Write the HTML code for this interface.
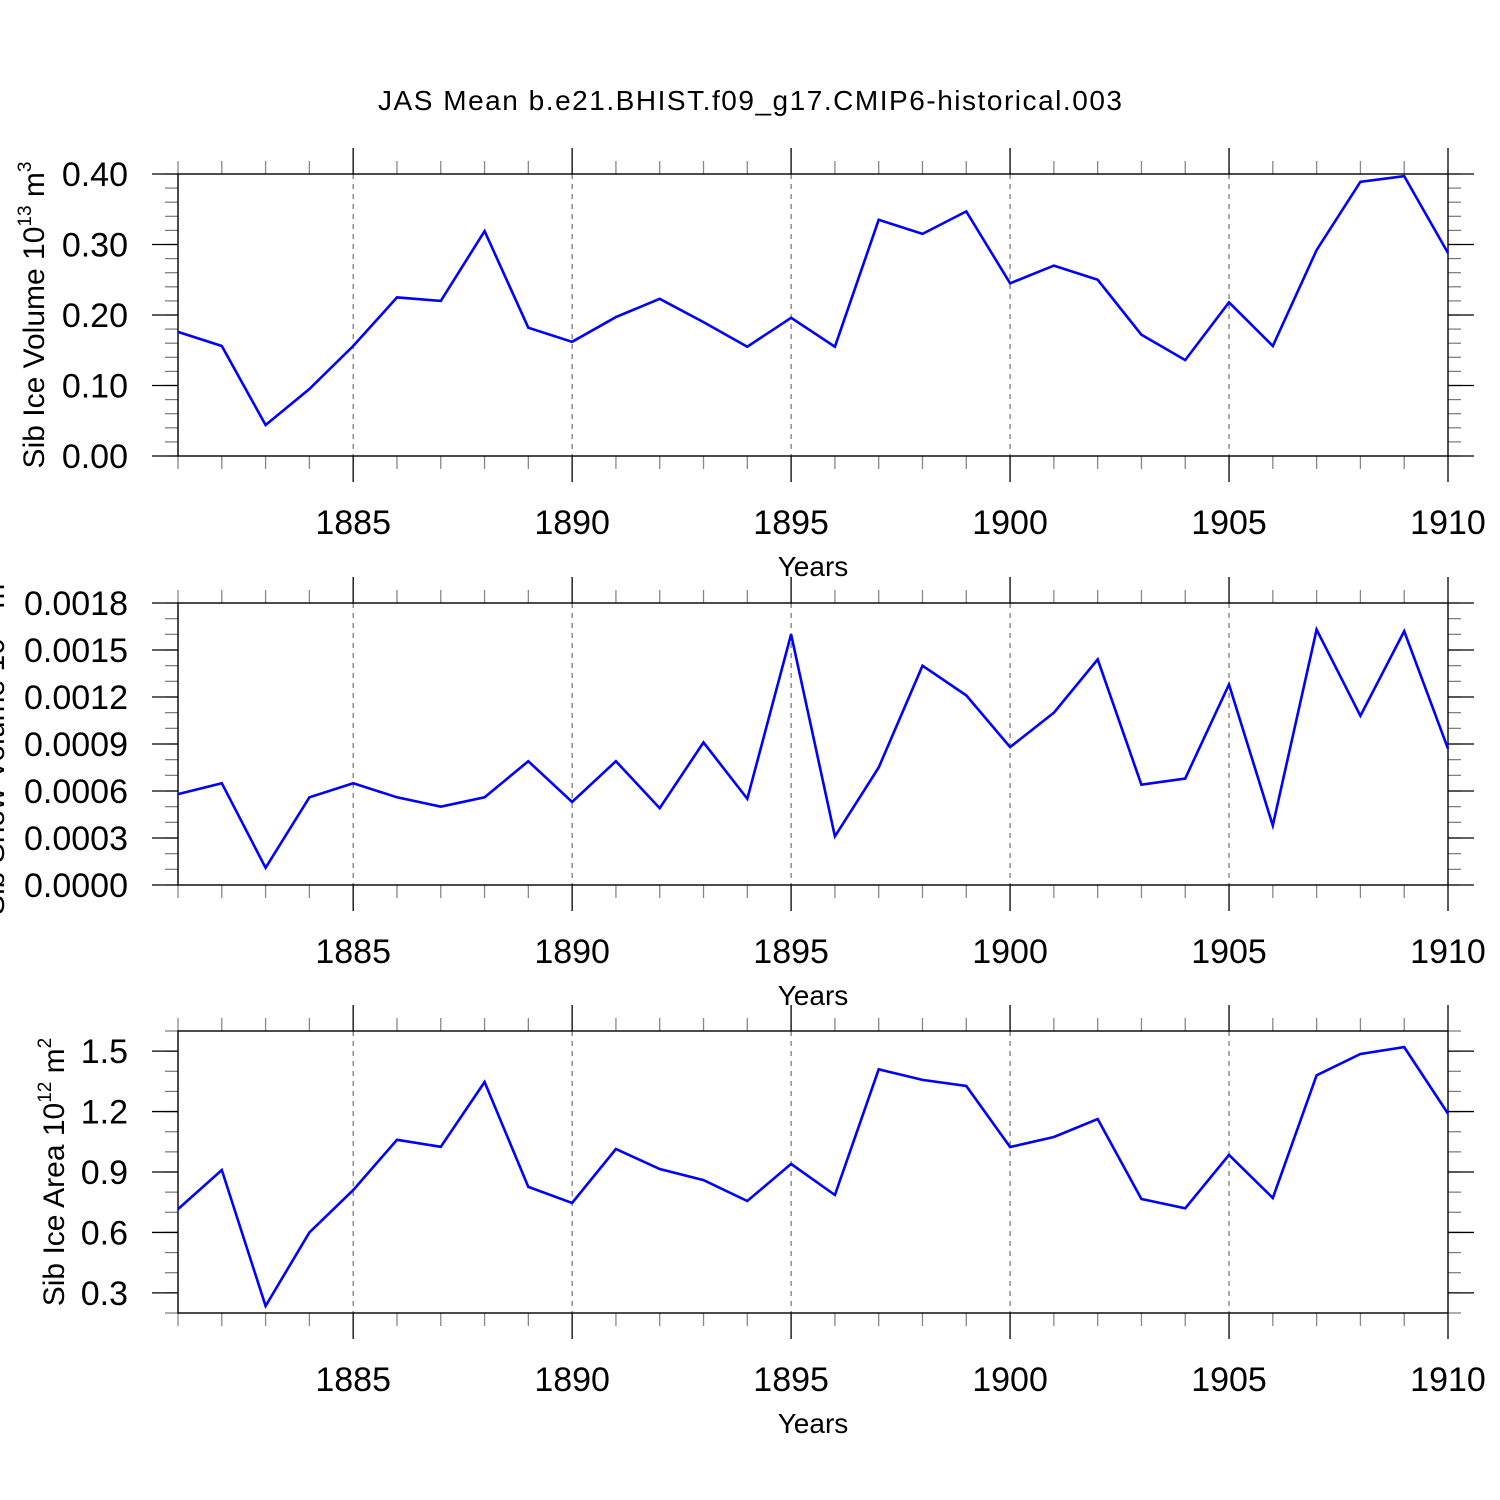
<!DOCTYPE html>
<html><head><meta charset="utf-8"><style>
html,body{margin:0;padding:0;background:#fff;}
svg{display:block;font-family:"Liberation Sans",sans-serif;}
</style></head><body>
<svg id="chart" width="1500" height="1500" viewBox="0 0 1500 1500">
<text x="750" y="110" font-size="28" text-anchor="middle" textLength="744">JAS Mean b.e21.BHIST.f09_g17.CMIP6-historical.003</text>
</svg>
<script>
const years = [1881,1882,1883,1884,1885,1886,1887,1888,1889,1890,1891,1892,1893,1894,1895,1896,1897,1898,1899,1900,1901,1902,1903,1904,1905,1906,1907,1908,1909,1910];
const iceVolume = [0.176,0.156,0.044,0.095,0.156,0.225,0.22,0.319,0.182,0.162,0.197,0.223,0.19,0.155,0.196,0.155,0.335,0.315,0.347,0.245,0.27,0.25,0.172,0.136,0.218,0.156,0.292,0.389,0.397,0.288];
const snowVolume = [0.00058,0.00065,0.00011,0.00056,0.00065,0.00056,0.0005,0.00056,0.00079,0.00053,0.00079,0.00049,0.00091,0.00055,0.0016,0.00031,0.00075,0.0014,0.00121,0.00088,0.0011,0.00144,0.00064,0.00068,0.00128,0.00038,0.00163,0.00108,0.00162,0.00087];
const iceArea = [0.716,0.91,0.235,0.6,0.81,1.06,1.025,1.347,0.826,0.746,1.014,0.915,0.86,0.756,0.94,0.786,1.41,1.357,1.327,1.024,1.074,1.163,0.766,0.72,0.985,0.771,1.38,1.486,1.52,1.19];
const xTickYears = [1885,1890,1895,1900,1905,1910];
const p1Ticks = ["0.00","0.10","0.20","0.30","0.40"];
const p2Ticks = ["0.0000","0.0003","0.0006","0.0009","0.0012","0.0015","0.0018"];
const p3Ticks = ["0.3","0.6","0.9","1.2","1.5"];

const NS = "http://www.w3.org/2000/svg";
const svg = document.getElementById('chart');
const X0 = 178, X1 = 1448;
function xs(yr){ return X0 + (yr - 1881) / (1910 - 1881) * (X1 - X0); }
function mk(tag, attrs, parent){
  const e = document.createElementNS(NS, tag);
  for (const k in attrs) e.setAttribute(k, attrs[k]);
  (parent || svg).appendChild(e);
  return e;
}
const sup = n => `<tspan dy="-13" font-size="19">${n}</tspan>`;
const panels = [
  {top:174, bottom:456, min:0, max:0.4, ticks:p1Ticks, minorStep:0.02, data:iceVolume, name:'ice-volume',
   label:'Sib Ice Volume 10' + sup(13) + '<tspan dy="13"> m</tspan>' + sup(3), lx:44},
  {top:603, bottom:885, min:0, max:0.0018, ticks:p2Ticks, minorStep:0.0001, data:snowVolume, name:'snow-volume',
   label:'Sib Snow Volume 10' + sup(13) + '<tspan dy="13"> m</tspan>' + sup(3), lx:4},
  {top:1031, bottom:1313, min:0.2, max:1.6, ticks:p3Ticks, minorStep:0.1, data:iceArea, name:'ice-area',
   label:'Sib Ice Area 10' + sup(12) + '<tspan dy="13"> m</tspan>' + sup(2), lx:64}
];

panels.forEach((p, pi) => {
  const g = mk('g', {});
  
  
  const ys = v => p.bottom - (v - p.min) / (p.max - p.min) * (p.bottom - p.top);
  xTickYears.forEach(yr => {
    if (yr === 1910) return;
    const l = mk('line', {x1:xs(yr), x2:xs(yr), y1:p.top, y2:p.bottom, stroke:'#555', 'stroke-width':1, 'stroke-dasharray':'5,5'}, g);
    
    
  });
  years.forEach(yr => {
    const maj = xTickYears.includes(yr);
    const L = maj ? 26 : 13;
    const c = maj ? '#000' : '#888';
    mk('line', {x1:xs(yr), x2:xs(yr), y1:p.top - L, y2:p.top, stroke:c, 'stroke-width':1.3}, g);
    mk('line', {x1:xs(yr), x2:xs(yr), y1:p.bottom, y2:p.bottom + L, stroke:c, 'stroke-width':1.3}, g);
  });
  const nMinor = Math.round((p.max - p.min) / p.minorStep);
  for (let i = 0; i <= nMinor; i++) {
    const y = ys(p.min + i * p.minorStep);
    mk('line', {x1:X0 - 13, x2:X0, y1:y, y2:y, stroke:'#777', 'stroke-width':1.2}, g);
    mk('line', {x1:X1, x2:X1 + 13, y1:y, y2:y, stroke:'#777', 'stroke-width':1.2}, g);
  }
  p.ticks.forEach(t => {
    const y = ys(parseFloat(t));
    mk('line', {x1:X0 - 26, x2:X0, y1:y, y2:y, stroke:'#000', 'stroke-width':1.3}, g);
    mk('line', {x1:X1, x2:X1 + 26, y1:y, y2:y, stroke:'#000', 'stroke-width':1.3}, g);
    const tx = mk('text', {x:128, y:y + 12, 'font-size':34, 'text-anchor':'end'}, g);
    tx.textContent = t;
    
    
  });
  const fr = mk('rect', {x:X0, y:p.top, width:X1 - X0, height:p.bottom - p.top, fill:'none', stroke:'#000', 'stroke-width':1.4}, g);
  
  
  xTickYears.forEach(yr => {
    const tx = mk('text', {x:xs(yr), y:p.bottom + 78, 'font-size':34, 'text-anchor':'middle'}, g);
    tx.textContent = yr;
    
    
  });
  const xt = mk('text', {x:813, y:p.bottom + 120, 'font-size':28, 'text-anchor':'middle'}, g);
  xt.textContent = 'Years';
  
  
  const cy = (p.top + p.bottom) / 2;
  const yt = mk('text', {x:0, y:0, 'font-size':30, 'text-anchor':'middle', transform:`translate(${p.lx},${cy}) rotate(-90)`}, g);
  yt.innerHTML = p.label;
  
  
  const pts = p.data.map((v, i) => xs(years[i]).toFixed(1) + ',' + ys(v).toFixed(1)).join(' ');
  const pl = mk('polyline', {points:pts, fill:'none', stroke:'#0000ff', 'stroke-width':2.6, 'stroke-linejoin':'miter'}, g);
  
  
});
</script>
</body></html>
